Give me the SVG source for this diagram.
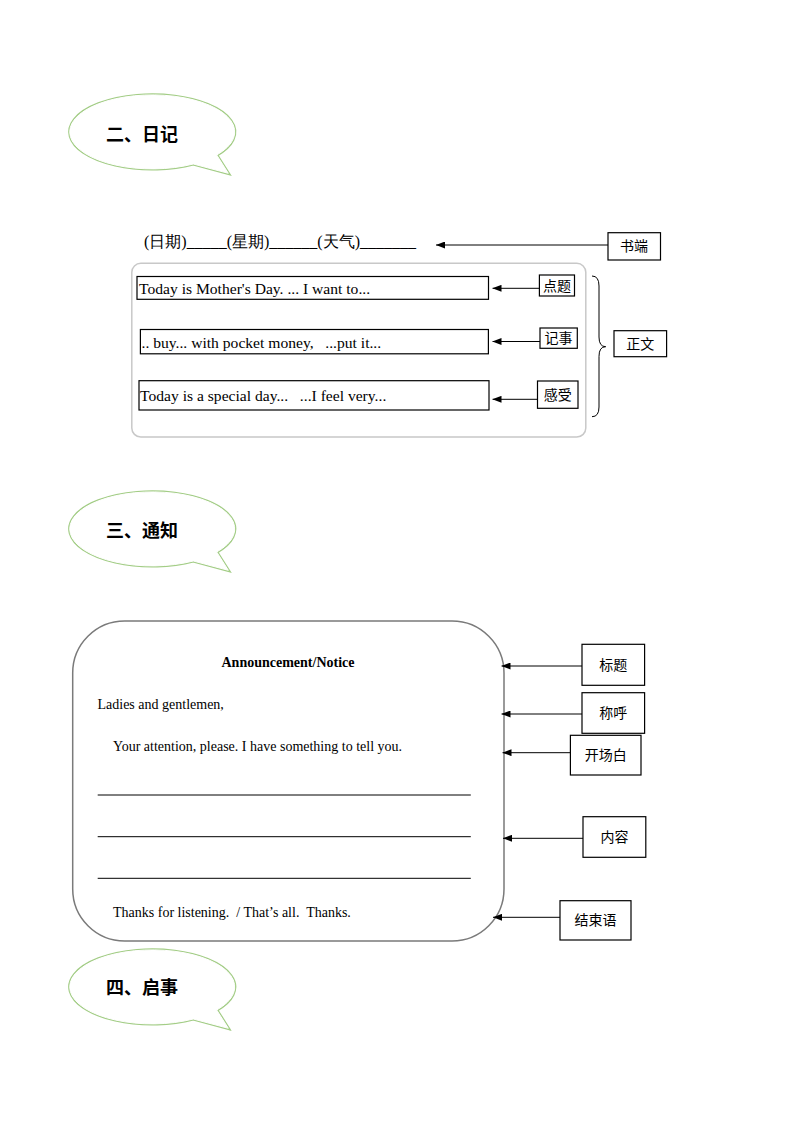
<svg xmlns="http://www.w3.org/2000/svg" width="794" height="1123" viewBox="0 0 794 1123">
<style>
.bub-o{fill:none;stroke:#a3cd86;stroke-width:3.2}
.bub-i{fill:#fff;stroke:#ffffff;stroke-width:1}
.bt{font-family:"Noto Sans CJK SC","Noto Sans",sans-serif;font-size:18px;font-weight:bold;fill:#000}
.en{font-family:"Liberation Serif","Times New Roman",serif;font-size:14px;fill:#000}
.dl{font-size:15.6px}
.cn{font-family:"Noto Sans CJK SC","Noto Sans",sans-serif;font-size:14px;fill:#000;text-anchor:middle}
.box{fill:#fff;stroke:#000;stroke-width:1.2}
.conn line{stroke:#000;stroke-width:1;marker-end:url(#ah)}
</style>
<defs>
<marker id="ah" viewBox="0 0 9 7" markerWidth="9" markerHeight="7" refX="9" refY="3.5" orient="auto" markerUnits="userSpaceOnUse">
<path d="M0,0 L9,3.5 L0,7 z" fill="#000"/>
</marker>
<path id="bubble" d="M193.3,164 A82.5,37 0 1 1 216.7,155 L228.3,173.3 Z"/>
</defs>
<rect width="794" height="1123" fill="#fff"/>

<g id="bubble1">
<use href="#bubble" class="bub-o"/>
<use href="#bubble" class="bub-i"/>
<text class="bt" x="106" y="141">二、日记</text>
</g>

<g id="diary-header">
<text class="en" style="font-size:16px" x="144" y="247">(日期)_____(星期)______(天气)_______</text>
</g>

<g id="shuduan">
<rect class="box" x="608" y="232.7" width="52.5" height="27.3"/>
<text class="cn" x="634" y="251.4">书端</text>
</g>

<g id="diary-body">
<rect x="131.8" y="263.3" width="454" height="173.7" rx="9" fill="#fff" stroke="#c8c8c8" stroke-width="1.5"/>
</g>

<g id="line1">
<rect class="box" x="137" y="276.5" width="351.5" height="22.8"/>
<text class="en dl" x="139" y="294" xml:space="preserve">Today is Mother's Day. ... I want to...</text>
</g>
<g id="line2">
<rect class="box" x="140.4" y="329.5" width="348" height="24.3"/>
<text class="en dl" x="141.5" y="347.5" xml:space="preserve">.. buy... with pocket money,   ...put it...</text>
</g>
<g id="line3">
<rect class="box" x="139" y="380.7" width="350" height="29.3"/>
<text class="en dl" x="140" y="400.5" xml:space="preserve">Today is a special day...   ...I feel very...</text>
</g>

<g id="dianti">
<rect class="box" x="539.4" y="275" width="35.1" height="21"/>
<text class="cn" x="557" y="290.5">点题</text>
</g>
<g id="jishi">
<rect class="box" x="540" y="328" width="37.3" height="20.3"/>
<text class="cn" x="558.6" y="343.2">记事</text>
</g>
<g id="ganshou">
<rect class="box" x="537.5" y="381" width="40.5" height="27.3"/>
<text class="cn" x="557.8" y="399.7">感受</text>
</g>
<g id="zhengwen">
<rect class="box" x="614" y="330.7" width="52.6" height="26"/>
<text class="cn" x="640.3" y="348.7">正文</text>
</g>

<g id="brace">
<path d="M592,276 Q599,276 599,286 L599,337 Q599,346.7 605.7,346.7 Q599,346.7 599,356.4 L599,407 Q599,416.7 592,416.7" fill="none" stroke="#000" stroke-width="1"/>
</g>

<g id="bubble2" transform="translate(0,397)">
<use href="#bubble" class="bub-o"/>
<use href="#bubble" class="bub-i"/>
<text class="bt" x="106" y="140">三、通知</text>
</g>

<g id="notice">
<rect x="72.7" y="621" width="431.3" height="320" rx="52" fill="#fff" stroke="#7a7a7a" stroke-width="1.5"/>
<text class="en" x="288" y="667" text-anchor="middle" font-weight="bold">Announcement/Notice</text>
<text class="en" x="97.5" y="709">Ladies and gentlemen,</text>
<text class="en" x="113" y="750.5">Your attention, please. I have something to tell you.</text>
<line x1="97.7" y1="795" x2="470.8" y2="795" stroke="#000" stroke-width="1"/>
<line x1="97.7" y1="836.7" x2="470.8" y2="836.7" stroke="#000" stroke-width="1"/>
<line x1="97.7" y1="878.3" x2="470.8" y2="878.3" stroke="#000" stroke-width="1"/>
<text class="en" x="113" y="916.5" xml:space="preserve">Thanks for listening.  / That’s all.  Thanks.</text>
</g>

<g id="biaoti">
<rect class="box" x="582" y="644.3" width="62.6" height="41"/>
<text class="cn" x="613.3" y="669.8">标题</text>
</g>
<g id="chenghu">
<rect class="box" x="582" y="692.7" width="62.6" height="40.6"/>
<text class="cn" x="613.3" y="718">称呼</text>
</g>
<g id="kaichangbai">
<rect class="box" x="570.4" y="735.3" width="70.6" height="39.7"/>
<text class="cn" x="605.7" y="760">开场白</text>
</g>
<g id="neirong">
<rect class="box" x="583" y="816.7" width="62.8" height="40.6"/>
<text class="cn" x="614.4" y="842">内容</text>
</g>
<g id="jieshuyu">
<rect class="box" x="560" y="900.7" width="71" height="39.3"/>
<text class="cn" x="595.5" y="925.3">结束语</text>
</g>

<g id="bubble3" transform="translate(0,855)">
<use href="#bubble" class="bub-o"/>
<use href="#bubble" class="bub-i"/>
<text class="bt" x="106" y="139">四、启事</text>
</g>

<g id="connectors" class="conn">
<line x1="608" y1="245" x2="436" y2="245"/>
<line x1="539.4" y1="288.3" x2="492.5" y2="288.3"/>
<line x1="540" y1="341.5" x2="492.5" y2="341.5"/>
<line x1="537.5" y1="399.3" x2="492.5" y2="399.3"/>
<line x1="582" y1="666" x2="501.5" y2="666"/>
<line x1="582" y1="714" x2="501.5" y2="714"/>
<line x1="570.4" y1="752.7" x2="502.5" y2="752.7"/>
<line x1="583" y1="838.3" x2="503" y2="838.3"/>
<line x1="560" y1="917.3" x2="493" y2="917.3"/>
</g>
</svg>
